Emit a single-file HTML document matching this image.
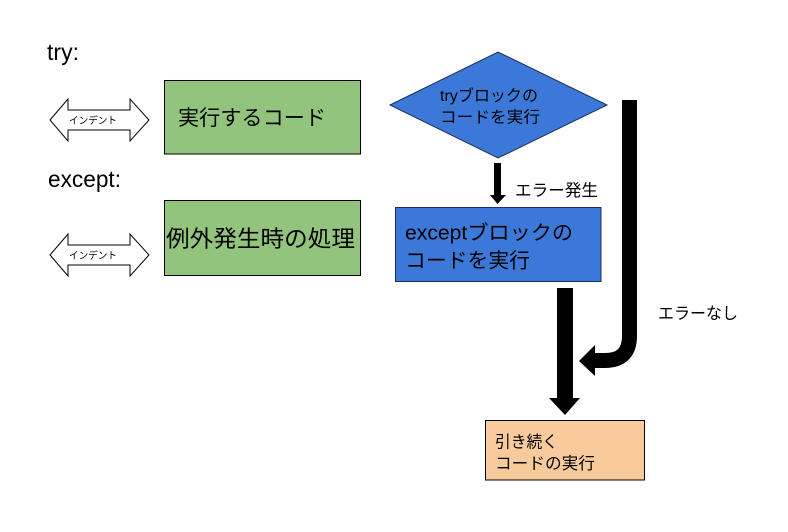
<!DOCTYPE html>
<html><head><meta charset="utf-8"><style>
html,body{margin:0;padding:0;background:#fff;}
svg{display:block;}
text{font-family:"Liberation Sans","Noto Sans CJK JP",sans-serif;fill:#000;}
</style></head><body>
<svg width="788" height="532" viewBox="0 0 788 532" xmlns="http://www.w3.org/2000/svg">
<rect width="788" height="532" fill="#fff"/>

<!-- left labels -->
<text x="47" y="60" font-size="23" textLength="32" lengthAdjust="spacingAndGlyphs">try:</text>
<text x="48" y="187" font-size="23" textLength="73" lengthAdjust="spacingAndGlyphs">except:</text>

<!-- indent arrows -->
<polygon points="50,120 68,99 68,110 130,110 130,99 149,120 130,141 130,130 68,130 68,141" fill="#fff" stroke="#000" stroke-width="1"/>
<text x="69" y="124" font-size="10" textLength="48" lengthAdjust="spacingAndGlyphs">インデント</text>
<polygon points="50,255 68,234 68,245 130,245 130,234 149,255 130,276 130,265 68,265 68,276" fill="#fff" stroke="#000" stroke-width="1"/>
<text x="69" y="259" font-size="10" textLength="48" lengthAdjust="spacingAndGlyphs">インデント</text>

<!-- green boxes -->
<rect x="164.5" y="80.5" width="196" height="73.5" fill="#93c47d" stroke="#000" stroke-width="1"/>
<text x="178" y="125" font-size="21" textLength="148" lengthAdjust="spacingAndGlyphs">実行するコード</text>
<rect x="164.5" y="200.5" width="196" height="75" fill="#93c47d" stroke="#000" stroke-width="1"/>
<text x="166" y="246.5" font-size="23" textLength="189" lengthAdjust="spacingAndGlyphs">例外発生時の処理</text>

<!-- diamond -->
<polygon points="390,105 498,52 607,105 498,158" fill="#3c78d8" stroke="#1c2f5c" stroke-width="1"/>
<text x="440" y="101" font-size="16" textLength="98" lengthAdjust="spacingAndGlyphs">tryブロックの</text>
<text x="440" y="122.5" font-size="16" textLength="100" lengthAdjust="spacingAndGlyphs">コードを実行</text>

<!-- small arrow -->
<polygon points="494,163 501,163 501,195 506,195 497.5,204 490,195 494,195" fill="#000"/>
<text x="515" y="196" font-size="16.5" textLength="83" lengthAdjust="spacingAndGlyphs">エラー発生</text>

<!-- blue rect -->
<rect x="395.5" y="207.5" width="205.5" height="74" fill="#3c78d8" stroke="#1c2f5c" stroke-width="1"/>
<text x="405" y="239.5" font-size="20" textLength="168" lengthAdjust="spacingAndGlyphs">exceptブロックの</text>
<text x="405" y="267.5" font-size="20.5" textLength="125" lengthAdjust="spacingAndGlyphs">コードを実行</text>

<!-- big straight arrow -->
<polygon points="557,288 573,288 573,398 580,398 565,415 549,398 557,398" fill="#000"/>

<!-- curved arrow -->
<path d="M629.5,100 L629.5,336 Q629.5,360.5 605,360.5 L593,360.5" fill="none" stroke="#000" stroke-width="15"/>
<polygon points="595,345 595,376 579,361" fill="#000"/>

<text x="658" y="319" font-size="16.5" textLength="80" lengthAdjust="spacingAndGlyphs">エラーなし</text>

<!-- orange box -->
<rect x="485.5" y="420.5" width="159" height="59.5" fill="#f9cb9c" stroke="#000" stroke-width="1"/>
<text x="495" y="447.5" font-size="16.5" textLength="63" lengthAdjust="spacingAndGlyphs">引き続く</text>
<text x="495" y="469" font-size="16.5" textLength="100" lengthAdjust="spacingAndGlyphs">コードの実行</text>
</svg>
</body></html>
